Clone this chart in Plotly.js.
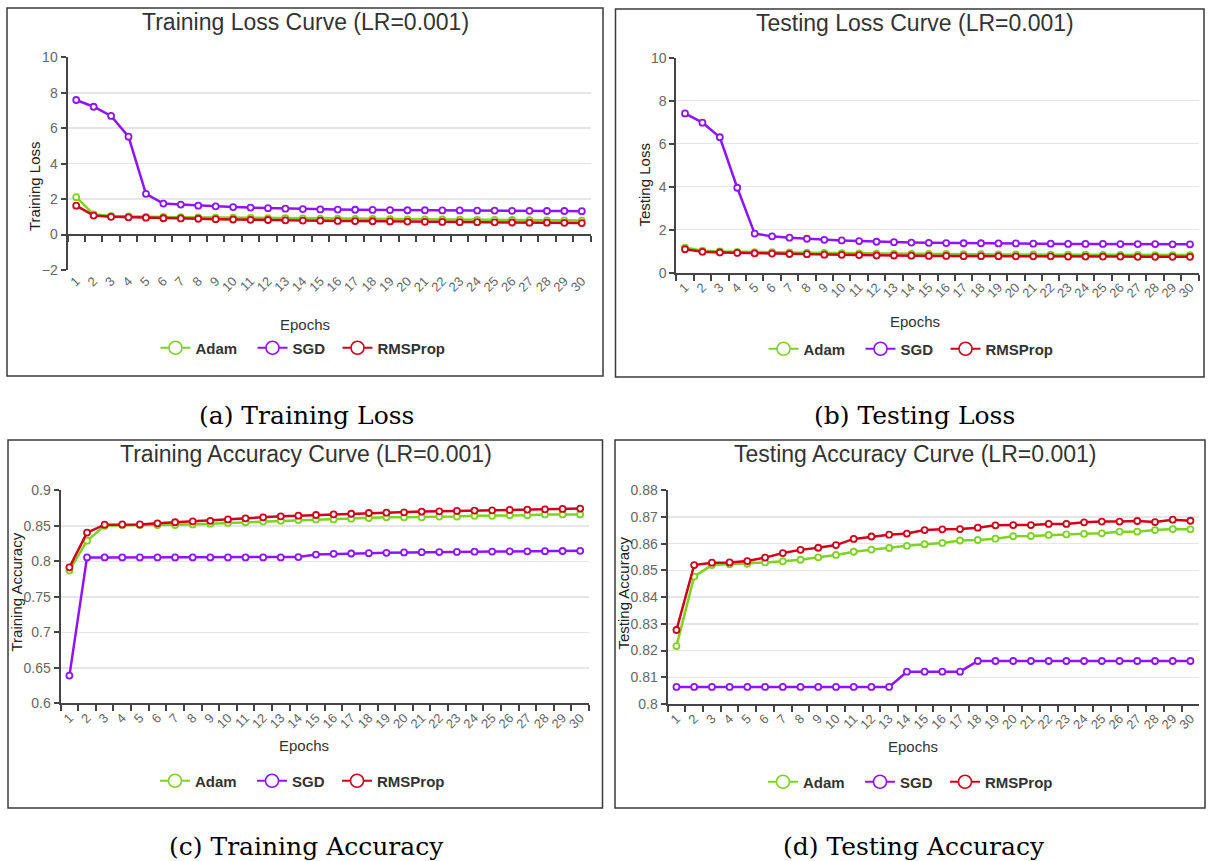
<!DOCTYPE html>
<html>
<head>
<meta charset="utf-8">
<script src="https://cdn.plot.ly/plotly-3.0.1.min.js"></script>
<style>
html,body{margin:0;padding:0;background:#ffffff;}
#chart{width:1208px;height:861px;}
</style>
</head>
<body>
<div id="chart"></div>
<script>
// ---------------- DATA ----------------
const epochs = ['1','2','3','4','5','6','7','8','9','10','11','12','13','14','15',
                '16','17','18','19','20','21','22','23','24','25','26','27','28','29','30'];
const optimizers = ['Adam', 'SGD', 'RMSProp'];

const trainLossAdam = [2.11,1.14,1.05,1.02,1.00,0.99,0.98,0.97,0.96,0.95,0.94,0.93,0.92,0.91,0.90,0.89,0.88,0.88,0.87,0.86,0.85,0.85,0.84,0.83,0.83,0.82,0.81,0.80,0.80,0.79];
const trainLossSGD  = [7.59,7.21,6.69,5.52,2.30,1.75,1.69,1.63,1.59,1.55,1.52,1.49,1.46,1.44,1.42,1.41,1.40,1.39,1.38,1.37,1.37,1.36,1.36,1.35,1.35,1.34,1.34,1.33,1.33,1.32];
const trainLossRMS  = [1.63,1.07,1.00,0.97,0.95,0.92,0.91,0.89,0.87,0.85,0.83,0.82,0.80,0.79,0.78,0.77,0.76,0.75,0.74,0.73,0.72,0.71,0.70,0.70,0.69,0.68,0.67,0.67,0.66,0.65];

const testLossAdam = [1.17,1.02,0.99,0.97,0.96,0.95,0.94,0.93,0.92,0.91,0.90,0.89,0.88,0.88,0.87,0.87,0.86,0.86,0.85,0.85,0.85,0.84,0.84,0.84,0.83,0.83,0.83,0.82,0.82,0.82];
const testLossSGD  = [7.41,6.98,6.30,3.95,1.82,1.69,1.63,1.58,1.53,1.50,1.47,1.44,1.42,1.40,1.39,1.38,1.37,1.37,1.36,1.36,1.35,1.35,1.34,1.34,1.34,1.33,1.33,1.33,1.32,1.32];
const testLossRMS  = [1.09,0.97,0.94,0.92,0.90,0.89,0.87,0.86,0.84,0.83,0.82,0.80,0.80,0.79,0.78,0.78,0.77,0.77,0.77,0.76,0.76,0.76,0.75,0.75,0.75,0.75,0.74,0.74,0.74,0.74];

const trainAccAdam = [0.787,0.829,0.850,0.851,0.851,0.851,0.851,0.852,0.853,0.854,0.855,0.856,0.857,0.858,0.859,0.859,0.860,0.861,0.862,0.862,0.862,0.863,0.863,0.864,0.864,0.865,0.865,0.866,0.866,0.866];
const trainAccSGD  = [0.639,0.8055,0.8055,0.8055,0.8055,0.8055,0.8055,0.8055,0.8055,0.8055,0.8055,0.8055,0.8055,0.806,0.8095,0.8105,0.811,0.8115,0.812,0.8125,0.8128,0.813,0.8132,0.8135,0.8137,0.814,0.814,0.8142,0.8145,0.8147];
const trainAccRMS  = [0.7915,0.8404,0.8516,0.852,0.852,0.8535,0.855,0.8563,0.857,0.859,0.8605,0.862,0.8634,0.8643,0.8652,0.8662,0.867,0.868,0.8685,0.869,0.870,0.8704,0.871,0.8714,0.8718,0.8723,0.8728,0.8732,0.8737,0.8742];

const testAccAdam = [0.8217,0.8477,0.852,0.8523,0.8525,0.853,0.8534,0.854,0.8549,0.8558,0.857,0.8578,0.8584,0.8592,0.8598,0.8603,0.8612,0.8614,0.8619,0.8628,0.8629,0.8633,0.8635,0.8637,0.8639,0.8645,0.8645,0.8651,0.8655,0.8654];
const testAccSGD  = [0.8064,0.8064,0.8064,0.8064,0.8064,0.8064,0.8064,0.8064,0.8064,0.8064,0.8064,0.8064,0.8064,0.8121,0.8121,0.8121,0.8121,0.8161,0.8161,0.8161,0.8161,0.8161,0.8161,0.8161,0.8161,0.8161,0.8161,0.8161,0.8161,0.8161];
const testAccRMS  = [0.8277,0.852,0.8529,0.853,0.8535,0.8548,0.8565,0.8577,0.8585,0.8595,0.8618,0.8627,0.8634,0.8638,0.8651,0.8654,0.8655,0.866,0.8669,0.867,0.867,0.8674,0.8674,0.868,0.8683,0.8683,0.8685,0.8681,0.869,0.8686];

const chartTitles = ['Training Loss Curve (LR=0.001)','Testing Loss Curve (LR=0.001)','Training Accuracy Curve (LR=0.001)','Testing Accuracy Curve (LR=0.001)'];
const yTitles = ['Training Loss','Testing Loss','Training Accuracy','Testing Accuracy'];
const xTitle = 'Epochs';
const captions = ['(a) Training Loss','(b) Testing Loss','(c) Training Accuracy','(d) Testing Accuracy'];

// ---------------- STYLE / LAYOUT CONFIG ----------------
const colors = ['#7ED321', '#9013FE', '#D0021B'];
const legendWidths = [52, 40, 70];
const FONT = 'Liberation Sans, Arial, sans-serif';
const SERIF = 'DejaVu Serif, Liberation Serif, serif';
const W = 1208, H = 861;
const fx = p => p / W;
const fy = p => 1 - p / H;

const panels = [
  {series:[trainLossAdam,trainLossSGD,trainLossRMS], yrange:[-2,10], dtick:2, axisAtZero:true,
   plot:[67.5,590.5,57.3,270], frame:[7,603,8,376], titleP:[305,22], yTitleP:[34,186], xTitleP:[305,324], legendP:[304,348], capP:[306,415]},
  {series:[testLossAdam,testLossSGD,testLossRMS], yrange:[0,10], dtick:2, axisAtZero:false,
   plot:[676.3,1198.7,57.7,272.7], frame:[615.5,1204,9,377], titleP:[914.5,23], yTitleP:[643.5,185], xTitleP:[914.5,321], legendP:[912,349], capP:[914,415]},
  {series:[trainAccAdam,trainAccSGD,trainAccRMS], yrange:[0.6,0.9], dtick:0.05, axisAtZero:false,
   plot:[60.6,589,490.3,703.3], frame:[8,602.5,440,808], titleP:[306,454], yTitleP:[16,592.5], xTitleP:[304,745], legendP:[303.5,781], capP:[306,846]},
  {series:[testAccAdam,testAccSGD,testAccRMS], yrange:[0.8,0.88], dtick:0.01, axisAtZero:false,
   plot:[667.6,1199.3,490.3,704], frame:[615,1205,440,808], titleP:[914.5,454], yTitleP:[622.5,593], xTitleP:[912.5,746], legendP:[911.5,782], capP:[914,846]}
];

const traces = [];
const layout = {
  width: W, height: H, autosize: false,
  margin: {l:0, r:0, t:0, b:0, pad:0},
  paper_bgcolor: '#ffffff', plot_bgcolor: '#ffffff',
  font: {family: FONT, color: '#333'},
  annotations: [], shapes: []
};

panels.forEach((p, i) => {
  const sfx = i === 0 ? '' : String(i + 1);
  const xName = 'x' + sfx, yName = 'y' + sfx;
  const yDomain = [fy(p.plot[3]), fy(p.plot[2])];
  const xDomain = [fx(p.plot[0]), fx(p.plot[1])];

  const xa = {
    domain: xDomain, type: 'category', range: [-0.5, epochs.length - 0.5],
    tickson: 'boundaries', ticks: 'outside', ticklen: 6, tickwidth: 2, tickcolor: '#444',
    showline: true, linecolor: '#444', linewidth: 2, showgrid: false, zeroline: false,
    tickangle: -45, tickfont: {family: FONT, size: 13, color: '#666'},
    automargin: false, fixedrange: true
  };
  if (p.axisAtZero) {
    xa.anchor = 'free';
    xa.position = yDomain[0] + (0 - p.yrange[0]) / (p.yrange[1] - p.yrange[0]) * (yDomain[1] - yDomain[0]);
    xa.ticklabelstandoff = 33;
  } else {
    xa.anchor = yName;
  }
  layout['xaxis' + sfx] = xa;
  layout['yaxis' + sfx] = {
    domain: yDomain, anchor: xName, range: p.yrange, dtick: p.dtick, tick0: p.yrange[0],
    ticks: 'outside', ticklen: 5, tickwidth: 2, tickcolor: '#444',
    showline: true, linecolor: '#444', linewidth: 2,
    showgrid: true, gridcolor: '#e6e6e6', gridwidth: 1.5, zeroline: false,
    tickfont: {family: FONT, size: 14, color: '#666'}, automargin: false, fixedrange: true
  };

  const legName = i === 0 ? 'legend' : 'legend' + (i + 1);
  layout[legName] = {
    orientation: 'h', x: fx(p.legendP[0]), y: fy(p.legendP[1]), xanchor: 'center', yanchor: 'middle',
    bgcolor: 'rgba(0,0,0,0)', font: {family: FONT, size: 15, color: '#333', weight: 'bold'},
    itemclick: false, itemdoubleclick: false
  };

  p.series.forEach((vals, k) => {
    traces.push({
      type: 'scatter', mode: 'lines+markers', name: optimizers[k],
      x: epochs, y: vals, xaxis: xName, yaxis: yName,
      line: {color: colors[k], width: 2.5},
      marker: {symbol: 'circle', size: 6, color: '#ffffff', line: {color: colors[k], width: 1.8}},
      showlegend: false, hoverinfo: 'skip', cliponaxis: false
    });
  });
  // legend entries (larger symbols, as in the reference legend)
  optimizers.forEach((name, k) => {
    traces.push({
      type: 'scatter', mode: 'lines+markers', name: name,
      x: [null], y: [null], xaxis: xName, yaxis: yName, legend: legName,
      legendwidth: legendWidths[k],
      line: {color: colors[k], width: 2},
      marker: {symbol: 'circle', size: 13, color: '#ffffff', line: {color: colors[k], width: 1.6}},
      showlegend: true, hoverinfo: 'skip'
    });
  });

  layout.annotations.push(
    {text: chartTitles[i], xref:'paper', yref:'paper', x: fx(p.titleP[0]), y: fy(p.titleP[1]),
     xanchor:'center', yanchor:'middle', showarrow:false, font:{family: FONT, size: 23, color:'#333'}},
    {text: yTitles[i], xref:'paper', yref:'paper', x: fx(p.yTitleP[0]), y: fy(p.yTitleP[1]),
     xanchor:'center', yanchor:'middle', showarrow:false, textangle:-90, font:{family: FONT, size: 15, color:'#222'}},
    {text: xTitle, xref:'paper', yref:'paper', x: fx(p.xTitleP[0]), y: fy(p.xTitleP[1]),
     xanchor:'center', yanchor:'middle', showarrow:false, font:{family: FONT, size: 15, color:'#333'}},
    {text: captions[i], xref:'paper', yref:'paper', x: fx(p.capP[0]), y: fy(p.capP[1]),
     xanchor:'center', yanchor:'middle', showarrow:false, font:{family: SERIF, size: 25, color:'#000'}}
  );
  layout.shapes.push({
    type:'rect', xref:'paper', yref:'paper',
    x0: fx(p.frame[0]), x1: fx(p.frame[1]), y0: fy(p.frame[3]), y1: fy(p.frame[2]),
    line: {color:'#3a3a3a', width:1.5}, fillcolor:'rgba(0,0,0,0)', layer:'below'
  });
});

Plotly.newPlot('chart', traces, layout, {displayModeBar: false, staticPlot: true});
</script>
</body>
</html>
